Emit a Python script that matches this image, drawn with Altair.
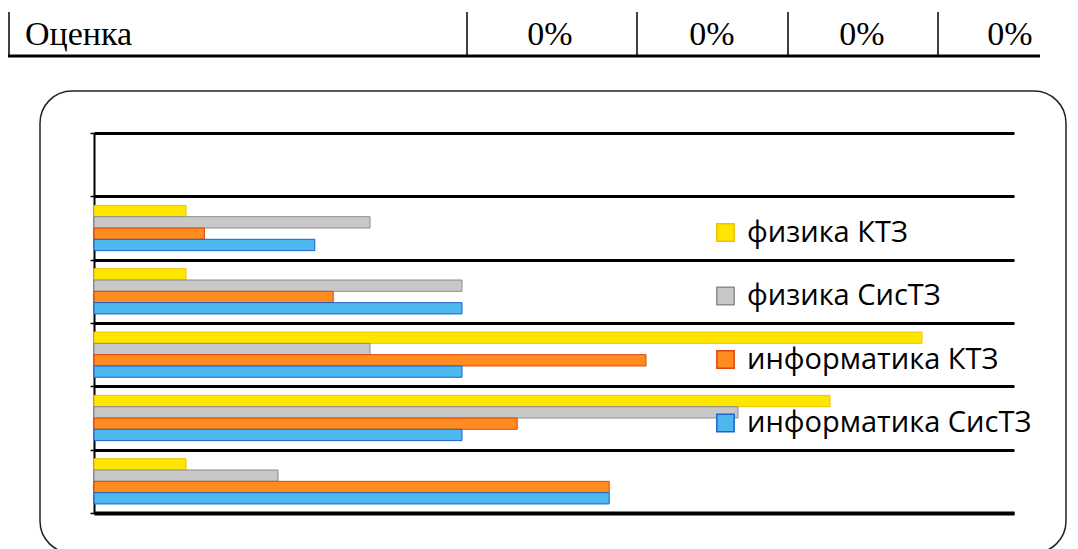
import altair as alt
import pandas as pd

# ---------------- data ----------------
categories = ["группа 0", "группа 1", "группа 2", "группа 3", "группа 4", "группа 5"]
bar_categories = ["группа 1", "группа 2", "группа 3", "группа 4", "группа 5"]
series = ["физика КТЗ", "физика СисТЗ", "информатика КТЗ", "информатика СисТЗ"]
phys_ktz = [10, 10, 90, 80, 10]
phys_sis = [30, 40, 30, 70, 20]
inf_ktz = [12, 26, 60, 46, 56]
inf_sis = [24, 40, 40, 40, 56]
table_cells = ["Оценка", "0%", "0%", "0%", "0%"]

# ---------------- layout / style ----------------
W, H = 1078, 549
LEFT, TOP, PW, PH = 94, 133, 920, 380
fill_colors = ["#FFE600", "#C8C8C8", "#FF8C1F", "#4DB8F0"]
stroke_colors = ["#F0C000", "#8C8C8C", "#E0450C", "#1C62C8"]
table_x = [25, 550, 712, 862, 1010]
table_vlines = [9, 467, 637, 788, 938]


def px(x):
    return x - LEFT


def py(y):
    return y - TOP


rows = []
for vals, s in zip([phys_ktz, phys_sis, inf_ktz, inf_sis], series):
    for c, v in zip(bar_categories, vals):
        rows.append({"category": c, "series": s, "value": v})
df = pd.DataFrame(rows)

dummy = pd.DataFrame({"d": [0]})

legend_kw = dict(
    orient="none", legendX=617, legendY=85, title=None, symbolType="square",
    symbolSize=300, symbolStrokeWidth=1.5, labelFontSize=29, labelFont="Open Sans",
    labelColor="black", rowPadding=33.5, labelOffset=7, direction="vertical",
    labelLimit=0,
)

bars = alt.Chart(df).mark_bar(strokeWidth=1).encode(
    x=alt.X("value:Q", scale=alt.Scale(domain=[0, 100], nice=False),
            axis=alt.Axis(labels=False, ticks=False, grid=False, title=None,
                          domainColor="black", domainWidth=4)),
    y=alt.Y("category:N", sort=categories,
            scale=alt.Scale(domain=categories, paddingInner=0, paddingOuter=0),
            axis=alt.Axis(labels=False, title=None, bandPosition=0, grid=True,
                          gridColor="black", gridWidth=3, gridOpacity=1,
                          ticks=True, tickSize=4, tickColor="black", tickWidth=1.5,
                          tickBand="extent",
                          domainColor="black", domainWidth=2)),
    yOffset=alt.YOffset("series:N", sort=series,
                        scale=alt.Scale(domain=series, paddingOuter=0.8, paddingInner=0)),
    color=alt.Color("series:N", sort=series,
                    scale=alt.Scale(domain=series, range=fill_colors),
                    legend=alt.Legend(**legend_kw)),
    stroke=alt.Stroke("series:N", sort=series,
                      scale=alt.Scale(domain=series, range=stroke_colors),
                      legend=alt.Legend(**legend_kw)),
)

frame = alt.Chart(dummy).mark_rect(
    cornerRadius=32, fillOpacity=0, stroke="#222222", strokeWidth=1.5
).encode(
    x=alt.value(px(40)), x2=alt.value(px(1066)),
    y=alt.value(py(91)), y2=alt.value(py(553)),
)

hline = alt.Chart(dummy).mark_rule(color="black", strokeWidth=3).encode(
    x=alt.value(px(8)), x2=alt.value(px(1040)), y=alt.value(py(56))
)

layers = [frame, hline]
for vx in table_vlines:
    layers.append(
        alt.Chart(dummy).mark_rule(color="black", strokeWidth=1.5).encode(
            x=alt.value(px(vx)), y=alt.value(py(12)), y2=alt.value(py(55))
        )
    )

for i, (txt, tx) in enumerate(zip(table_cells, table_x)):
    layers.append(
        alt.Chart(dummy).mark_text(
            text=txt, font="Liberation Serif", fontSize=34, color="black",
            align="left" if i == 0 else "center", baseline="alphabetic",
        ).encode(x=alt.value(px(tx)), y=alt.value(py(45)))
    )

chart = alt.layer(*layers, bars).properties(
    width=PW, height=PH,
    padding={"left": LEFT, "top": TOP, "right": W - LEFT - PW, "bottom": H - TOP - PH},
    autosize=alt.AutoSizeParams(type="none"),
    background="white",
).configure_view(stroke=None)

chart.save("out.html", embed_options={"renderer": "svg", "actions": False})
